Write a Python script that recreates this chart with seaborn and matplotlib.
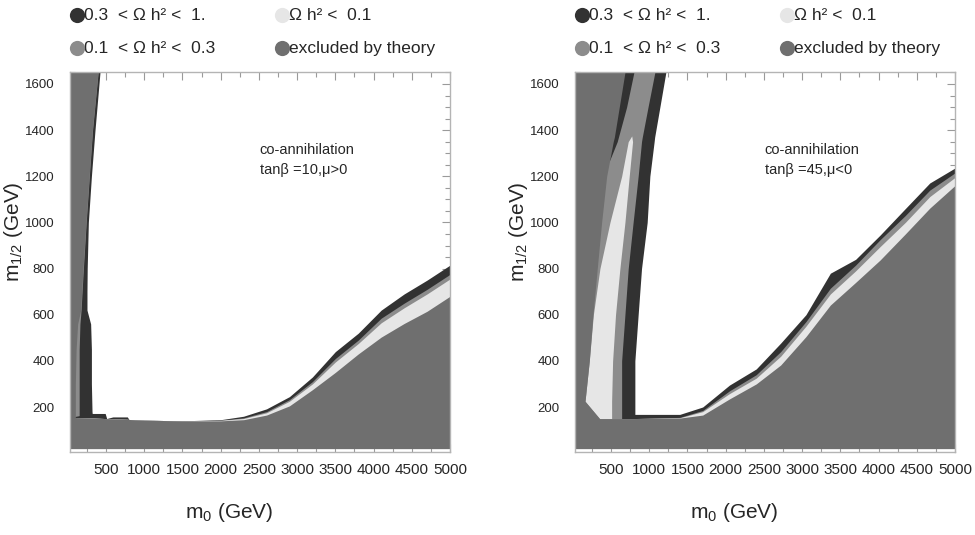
import matplotlib
matplotlib.use("Agg")
import matplotlib.pyplot as plt
import seaborn as sns
from matplotlib.ticker import MultipleLocator

# ---------------- data ----------------
# colours of the four classes
C_DARK, C_MED, C_LIGHT, C_EXCL = "#323232", "#8c8c8c", "#e6e6e6", "#6f6f6f"

legend_labels = ["0.3  < Ω h² <  1.", "0.1  < Ω h² <  0.3",
                 "Ω h² <  0.1", "excluded by theory"]

# ---- left panel: tanβ=10, μ>0 ----
# vertical (small m0) strip, as a function of m1/2
A_m = [140, 180, 300, 450, 560, 620, 700, 800, 1000, 1200, 1400, 1650]
A_excl_x = [100, 100, 100, 110, 130, 170, 183, 200, 239, 280, 322, 396]
A_med_x = [150, 150, 150, 150, 160, 175, 188, 205, 242, 283, 325, 398]
A_dark_x = [330, 318, 310, 310, 300, 252, 252, 255, 270, 310, 357, 422]
# co-annihilation curve, as a function of m0
A_m0 = [30, 300, 490, 510, 590, 780, 800, 1000, 1500, 2000, 2300, 2600,
        2900, 3200, 3500, 3800, 4100, 4400, 4700, 5000]
A_excl_y = [155, 153, 150, 150, 149, 147, 146, 143, 140, 140, 145, 165,
            205, 275, 350, 430, 503, 562, 615, 680]
A_light_y = [155, 153, 150, 150, 149, 147, 146, 143, 140, 142, 150, 175,
             225, 300, 395, 475, 565, 630, 690, 755]
A_med_y = [155, 153, 150, 150, 149, 147, 146, 143, 140, 143, 153, 180,
           232, 310, 410, 490, 585, 650, 710, 775]
A_dark_y = [155, 172, 172, 150, 157, 157, 146, 143, 140, 145, 160, 192,
            245, 330, 440, 520, 620, 690, 750, 815]

# ---- right panel: tanβ=45, μ<0 ----
B_m = [140, 148, 225, 400, 600, 800, 1000, 1200, 1350, 1370, 1500, 1650]
B_excl_x = [356, 356, 161, 217, 265, 321, 378, 444, 530, 545, 609, 683]
B_med_x = [640, 640, 640, 640, 683, 726, 790, 856, 900, 910, 985, 1074]
B_dark_x = [813, 813, 813, 813, 856, 900, 974, 1009, 1065, 1072, 1140, 1218]
B_light_m = [140, 148, 225, 400, 600, 800, 1000, 1200, 1350, 1375]
B_light_lo = [356, 356, 161, 217, 270, 356, 487, 640, 726, 772]
B_light_hi = [509, 509, 509, 522, 560, 617, 683, 739, 783, 772]
B_dark1_m = [1270, 1350, 1500, 1650]
B_dark1_x = [484, 582, 705, 800]
B_m0 = [30, 790, 800, 1400, 1700, 2050, 2400, 2720, 3050, 3370, 3700,
        4020, 4350, 4670, 5000]
B_excl_y = [150, 150, 150, 152, 165, 235, 300, 382, 505, 642, 740,
            837, 950, 1062, 1160]
B_light_y = [150, 150, 150, 153, 180, 258, 325, 420, 550, 690, 790,
             895, 1000, 1112, 1195]
B_med_y = [150, 150, 150, 155, 185, 270, 340, 440, 570, 715, 815,
           925, 1030, 1140, 1215]
B_dark_y = [150, 150, 168, 168, 200, 295, 365, 477, 600, 780, 840,
            945, 1060, 1171, 1236]

x_ticks = [500, 1000, 1500, 2000, 2500, 3000, 3500, 4000, 4500, 5000]
y_ticks = [200, 400, 600, 800, 1000, 1200, 1400, 1600]
X0, X1, Y0, Y1, YB = 30, 5000, 5, 1652, 20

# ---------------- style ----------------
sns.set_style("ticks")
plt.rcParams["font.family"] = ["Liberation Sans", "DejaVu Sans"]
plt.rcParams["mathtext.fontset"] = "custom"
plt.rcParams["mathtext.rm"] = "Liberation Sans"
plt.rcParams["mathtext.default"] = "regular"

fig = plt.figure(figsize=(9.75, 5.35), dpi=100)
axL = fig.add_axes([70 / 975, 83 / 535, 380 / 975, 380 / 535])
axR = fig.add_axes([575 / 975, 83 / 535, 380 / 975, 380 / 535])


def style_axes(ax, note):
    ax.set_xlim(X0, X1)
    ax.set_ylim(Y0, Y1)
    ax.set_xticks(x_ticks)
    ax.set_yticks(y_ticks)
    ax.xaxis.set_minor_locator(MultipleLocator(250))
    ax.yaxis.set_minor_locator(MultipleLocator(50))
    ax.tick_params(which="both", direction="in", top=True, right=True,
                   color="#9a9a9a", width=0.8)
    ax.tick_params(which="major", length=6)
    ax.tick_params(which="minor", length=3.5)
    ax.tick_params(axis="x", labelsize=11, pad=8)
    ax.tick_params(axis="y", labelsize=9.5, pad=11)
    for s in ax.spines.values():
        s.set_color("#b4b4b4")
        s.set_linewidth(1.0)
    ax.set_xlabel("m$_0$ (GeV)", fontsize=15)
    ax.xaxis.set_label_coords(0.42, -0.13)
    ax.set_ylabel("m$_{1/2}$ (GeV)", fontsize=15)
    ax.yaxis.set_label_coords(-0.118, 0.58)
    ax.text(2510, 1314, "co-annihilation", fontsize=10.5, va="center")
    ax.text(2510, 1227, note, fontsize=10.5, va="center")
    # legend above the panel
    items = [(0.018, 1.150, C_DARK, legend_labels[0]),
             (0.018, 1.063, C_MED, legend_labels[1]),
             (0.558, 1.150, C_LIGHT, legend_labels[2]),
             (0.558, 1.063, C_EXCL, legend_labels[3])]
    for x, y, c, lab in items:
        ax.scatter([x], [y], s=120, color=c, transform=ax.transAxes,
                   clip_on=False, linewidths=0, zorder=5)
        ax.text(x + 0.018, y, lab, transform=ax.transAxes, fontsize=12.5,
                va="center", ha="left")


# ---- left panel ----
ax = axL
ax.fill_betweenx(A_m, X0, A_dark_x, color=C_DARK, lw=0)
ax.fill_betweenx(A_m, X0, A_med_x, color=C_MED, lw=0)
ax.fill_between(A_m0, YB, A_dark_y, color=C_DARK, lw=0)
ax.fill_between(A_m0, YB, A_med_y, color=C_MED, lw=0)
ax.fill_between(A_m0, YB, A_light_y, color=C_LIGHT, lw=0)
ax.fill_betweenx(A_m, X0, A_excl_x, color=C_EXCL, lw=0)
ax.fill_between(A_m0, YB, A_excl_y, color=C_EXCL, lw=0)
style_axes(ax, "tanβ =10,μ>0")

# ---- right panel ----
ax = axR
ax.fill_betweenx(B_m, X0, B_dark_x, color=C_DARK, lw=0)
ax.fill_betweenx(B_m, X0, B_med_x, color=C_MED, lw=0)
ax.fill_betweenx(B_light_m, B_light_lo, B_light_hi, color=C_LIGHT, lw=0)
ax.fill_betweenx(B_dark1_m, X0, B_dark1_x, color=C_DARK, lw=0)
ax.fill_between(B_m0, YB, B_dark_y, color=C_DARK, lw=0)
ax.fill_between(B_m0, YB, B_med_y, color=C_MED, lw=0)
ax.fill_between(B_m0, YB, B_light_y, color=C_LIGHT, lw=0)
ax.fill_betweenx(B_m, X0, B_excl_x, color=C_EXCL, lw=0)
ax.fill_between(B_m0, YB, B_excl_y, color=C_EXCL, lw=0)
style_axes(ax, "tanβ =45,μ<0")

fig.savefig("out.png", dpi=100)
